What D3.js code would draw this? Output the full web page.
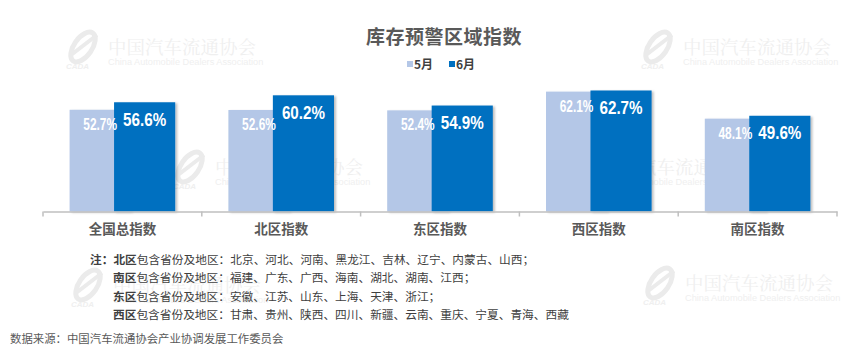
<!DOCTYPE html>
<html>
<head>
<meta charset="utf-8">
<script src="https://cdn.jsdelivr.net/npm/d3@7"></script>
<style>
  body { margin: 0; background: #fff; }
  svg { display: block; font-family: "Noto Sans CJK SC", "Noto Sans", sans-serif; }
</style>
</head>
<body>
<div id="chart"></div>
<script>
// chart values
var categories = ["全国总指数", "北区指数", "东区指数", "西区指数", "南区指数"];
var seriesNames = ["5月", "6月"];
var may = [52.7, 52.6, 52.4, 62.1, 48.1];
var june = [56.6, 60.2, 54.9, 62.7, 49.6];
var colors = ["#b4c7e7", "#0070c0"];

var title = "库存预警区域指数";
var noteRegions = ["北区", "南区", "东区", "西区"];
var noteProvinces = [
  "北京、河北、河南、黑龙江、吉林、辽宁、内蒙古、山西；",
  "福建、广东、广西、海南、湖北、湖南、江西；",
  "安徽、江苏、山东、上海、天津、浙江；",
  "甘肃、贵州、陕西、四川、新疆、云南、重庆、宁夏、青海、西藏"
];
var source = "数据来源：中国汽车流通协会产业协调发展工作委员会";

var width = 865, height = 354;
var svg = d3.select("#chart").append("svg").attr("width", width).attr("height", height);

var defs = svg.append("defs");
var shadow = defs.append("filter").attr("id", "shadow")
  .attr("x", "-10%").attr("y", "-10%").attr("width", "130%").attr("height", "130%");
shadow.append("feDropShadow").attr("dx", 2).attr("dy", 1).attr("stdDeviation", 1.2)
  .attr("flood-color", "#000").attr("flood-opacity", 0.25);

// watermark of the association, repeated on the page
function watermark(x, y) {
  var g = svg.append("g").attr("transform", "translate(" + x + "," + y + ")").attr("fill", "#efefef");
  g.append("ellipse").attr("cx", 20).attr("cy", 0).attr("rx", 9).attr("ry", 17)
    .attr("transform", "rotate(35,20,0)").attr("fill", "none").attr("stroke", "#ebebeb").attr("stroke-width", 5);
  g.append("line").attr("x1", 8).attr("y1", 8).attr("x2", 34).attr("y2", -12)
    .attr("stroke", "#ebebeb").attr("stroke-width", 4);
  g.append("text").attr("x", 3).attr("y", 22).style("font-family", "Liberation Sans")
    .style("font-style", "italic").style("font-weight", "bold").style("font-size", "8px").text("CADA");
  g.append("text").attr("x", 45).attr("y", 7).style("font-size", "18.5px")
    .style("font-family", "'Noto Serif CJK SC', 'Noto Sans CJK SC'").text("中国汽车流通协会");
  g.append("text").attr("x", 45).attr("y", 18).style("font-size", "9.2px")
    .style("font-family", "Liberation Sans").text("China Automobile Dealers Association");
}
watermark(63, 47);
watermark(638, 47);
watermark(170, 167);
watermark(556, 167);
watermark(68, 285);
watermark(640, 283);

// scales
var x = d3.scaleBand().domain(categories).range([43, 837]);
var y = d3.scaleLinear().domain([0, 100]).range([211.5, 18.5]);
var barW = x.bandwidth() * 0.385;
var offset = x.bandwidth() * 0.14;

var rows = categories.map(function(c, i) { return { cat: c, v: [may[i], june[i]] }; });

// bars, 5月 first so 6月 overlaps it
[0, 1].forEach(function(s) {
  svg.append("g").selectAll("rect").data(rows).enter().append("rect")
    .attr("x", function(d) { return x(d.cat) + x.bandwidth() / 2 + (s === 0 ? -offset : offset) - barW / 2; })
    .attr("y", function(d) { return y(d.v[s]); })
    .attr("width", barW)
    .attr("height", function(d) { return y(0) - y(d.v[s]); })
    .attr("fill", colors[s])
    .attr("filter", "url(#shadow)");
});

// value labels inside the bars, narrow type done with a horizontal squeeze
svg.append("g").selectAll("text").data(rows).enter().append("text")
  .attr("transform", function(d) {
    return "translate(" + (x(d.cat) + x.bandwidth() / 2 - offset) + "," + (y(d.v[0]) + 20) + ") scale(0.7,1)";
  })
  .attr("text-anchor", "middle")
  .style("font-family", "'Liberation Sans', Arial, sans-serif")
  .style("font-size", "17px").style("font-weight", "bold")
  .attr("fill", "#fff")
  .text(function(d) { return d.v[0].toFixed(1) + "%"; });

svg.append("g").selectAll("text").data(rows).enter().append("text")
  .attr("transform", function(d) {
    return "translate(" + (x(d.cat) + x.bandwidth() / 2 + offset) + "," + (y(d.v[1]) + 23.5) + ") scale(0.8,1)";
  })
  .attr("text-anchor", "middle")
  .style("font-family", "'Liberation Sans', Arial, sans-serif")
  .style("font-size", "19px").style("font-weight", "bold")
  .attr("fill", "#fff")
  .text(function(d) { return d.v[1].toFixed(1) + "%"; });

// category axis
var xAxis = d3.axisBottom(x).tickSize(0).tickPadding(13);
var ax = svg.append("g").attr("transform", "translate(0," + y(0) + ")").call(xAxis);
ax.select(".domain").attr("stroke", "#bfbfbf").attr("stroke-width", 1.5);
ax.selectAll("text")
  .style("font-family", "'Noto Sans CJK SC', sans-serif")
  .style("font-size", "13.5px").style("font-weight", "bold").attr("fill", "#595959");
// tick marks between categories
ax.selectAll("line.sep").data(d3.range(categories.length + 1)).enter().append("line")
  .attr("class", "sep")
  .attr("x1", function(i) { return x.range()[0] + i * x.step(); })
  .attr("x2", function(i) { return x.range()[0] + i * x.step(); })
  .attr("y1", 0).attr("y2", 5)
  .attr("stroke", "#bfbfbf").attr("stroke-width", 1.5);

// title
svg.append("text").attr("x", 444).attr("y", 44).attr("text-anchor", "middle")
  .style("font-size", "19px").style("font-weight", "bold").style("letter-spacing", "0.5px")
  .attr("fill", "#595959").text(title);

// legend
var legend = svg.append("g").selectAll("g").data(seriesNames).enter().append("g")
  .attr("transform", function(d, i) { return "translate(" + (407 + i * 42) + ",61)"; });
legend.append("rect").attr("width", 6).attr("height", 6).attr("fill", function(d, i) { return colors[i]; });
legend.append("text").attr("x", 7).attr("y", 7.5)
  .style("font-size", "12px").style("font-weight", "bold").attr("fill", "#404040")
  .text(function(d) { return d; });

// notes
var notes = svg.append("g").style("font-size", "11.7px").attr("fill", "#404040");
noteRegions.forEach(function(r, i) {
  var t = notes.append("text").attr("x", i === 0 ? 90 : 113).attr("y", 263.5 + i * 18.5);
  if (i === 0) t.append("tspan").style("font-weight", "bold").text("注：");
  t.append("tspan").style("font-weight", "bold").text(r);
  t.append("tspan").text("包含省份及地区：" + noteProvinces[i]);
});

svg.append("text").attr("x", 10).attr("y", 343)
  .style("font-size", "11.4px").attr("fill", "#595959").text(source);
</script>
</body>
</html>
